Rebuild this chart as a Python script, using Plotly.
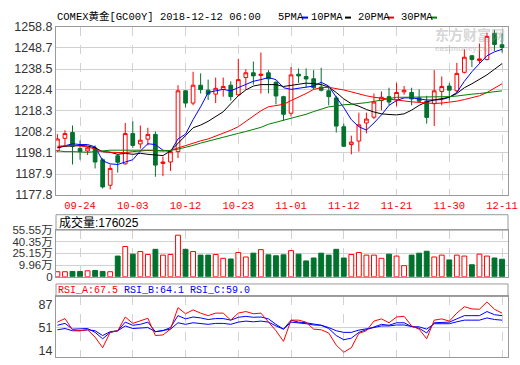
import plotly.graph_objects as go

# ---------------- data ----------------
IDX = list(range(60))
TICK_POS = [3, 10, 17, 24, 31, 38, 45, 52, 59]
TICK_TEXT = ["09-24", "10-03", "10-12", "10-23", "11-01", "11-12", "11-21", "11-30", "12-11"]

OPEN = [1199.1, 1205.1, 1207.9, 1200.2, 1199.0, 1200.5, 1194.8, 1182.5, 1196.7, 1192.8,
        1207.4, 1202.4, 1204.7, 1207.0, 1193.0, 1193.7, 1198.7, 1228.0, 1222.1, 1230.7,
        1228.3, 1226.4, 1228.7, 1230.7, 1226.1, 1234.4, 1236.7, 1235.4, 1236.7, 1232.1,
        1225.2, 1217.2, 1236.0, 1234.9, 1233.8, 1229.8, 1228.0, 1224.6, 1210.7, 1202.1,
        1203.8, 1212.5, 1215.3, 1223.3, 1225.2, 1223.6, 1227.5, 1227.2, 1224.6, 1223.0,
        1221.8, 1227.7, 1230.3, 1228.0, 1236.9, 1244.9, 1242.6, 1243.1, 1255.7, 1250.2]
HIGH = [1207.1, 1209.0, 1211.3, 1204.1, 1201.0, 1201.7, 1195.6, 1192.5, 1197.4, 1212.5,
        1213.3, 1211.3, 1210.2, 1208.4, 1196.3, 1199.4, 1230.7, 1228.3, 1237.2, 1236.4,
        1233.4, 1234.4, 1234.4, 1232.6, 1243.4, 1238.4, 1242.1, 1246.5, 1238.0, 1232.9,
        1225.6, 1239.5, 1238.8, 1238.8, 1238.0, 1239.1, 1230.3, 1225.6, 1212.2, 1206.4,
        1217.5, 1217.5, 1226.7, 1227.7, 1229.5, 1231.8, 1230.3, 1229.5, 1228.7, 1225.6,
        1238.0, 1234.9, 1231.8, 1241.5, 1248.0, 1245.2, 1250.8, 1256.0, 1257.3, 1255.7]
LOW = [1198.6, 1201.7, 1192.5, 1194.8, 1197.1, 1190.6, 1180.9, 1180.5, 1188.6, 1192.5,
       1200.5, 1200.2, 1201.7, 1186.6, 1186.9, 1189.4, 1195.6, 1220.0, 1221.0, 1226.7,
       1223.6, 1222.1, 1225.2, 1223.3, 1225.6, 1228.7, 1231.0, 1226.7, 1226.7, 1221.5,
       1213.8, 1215.6, 1231.8, 1229.5, 1228.7, 1227.7, 1221.0, 1207.9, 1201.0, 1197.4,
       1198.7, 1207.5, 1214.4, 1218.7, 1221.0, 1220.6, 1226.1, 1221.0, 1222.6, 1212.2,
       1211.0, 1221.0, 1223.3, 1227.2, 1236.4, 1239.5, 1241.1, 1242.6, 1247.2, 1246.5]
CLOSE = [1204.8, 1207.4, 1201.3, 1198.7, 1200.5, 1193.7, 1181.7, 1190.6, 1193.6, 1207.4,
         1201.7, 1204.2, 1207.0, 1192.2, 1193.7, 1198.7, 1228.0, 1222.1, 1230.7, 1228.6,
         1226.4, 1229.2, 1230.1, 1225.2, 1233.4, 1236.7, 1235.2, 1236.0, 1233.8, 1225.5,
         1216.7, 1235.7, 1235.2, 1233.7, 1229.5, 1228.3, 1225.2, 1211.0, 1201.3, 1203.3,
         1211.6, 1214.4, 1222.6, 1224.9, 1222.6, 1227.2, 1228.3, 1224.1, 1223.0, 1215.2,
         1228.0, 1230.1, 1228.3, 1236.4, 1244.2, 1243.1, 1243.4, 1254.2, 1250.3, 1248.9]

MA5 = [1200.5, 1201.4, 1202.5, 1202.1, 1202.1, 1201.0, 1194.3, 1192.8, 1192.5, 1193.7,
       1194.8, 1199.0, 1202.5, 1202.1, 1199.4, 1198.7, 1204.8, 1207.1, 1214.1, 1220.3,
       1227.2, 1228.0, 1228.7, 1228.0, 1229.5, 1231.0, 1232.6, 1233.4, 1234.4, 1233.4,
       1229.5, 1228.7, 1229.2, 1229.5, 1230.3, 1232.1, 1230.3, 1224.9, 1219.9, 1214.1,
       1210.7, 1209.1, 1212.5, 1216.4, 1221.0, 1223.3, 1224.6, 1224.6, 1224.1, 1223.6,
       1223.6, 1223.8, 1224.9, 1227.2, 1232.6, 1237.2, 1241.1, 1244.9, 1246.8, 1248.0]
MA10 = [1200.7, 1201.3, 1201.4, 1201.7, 1201.4, 1200.5, 1198.7, 1198.4, 1197.4, 1197.9,
        1197.4, 1197.9, 1197.4, 1197.1, 1196.8, 1199.0, 1202.5, 1206.4, 1210.2, 1211.5,
        1213.3, 1215.6, 1217.9, 1221.8, 1225.6, 1228.4, 1230.3, 1231.0, 1231.0, 1231.0,
        1230.1, 1230.7, 1231.4, 1231.7, 1231.5, 1231.0, 1229.8, 1227.2, 1224.1, 1221.8,
        1220.6, 1219.0, 1217.8, 1216.9, 1216.6, 1216.4, 1216.9, 1218.7, 1221.0, 1222.7,
        1223.6, 1224.4, 1224.9, 1226.7, 1229.5, 1231.4, 1233.4, 1235.7, 1238.4, 1241.1]
MA20 = [1201.3, 1201.4, 1201.7, 1201.4, 1201.0, 1199.9, 1198.7, 1198.4, 1198.2, 1198.2,
        1198.7, 1199.0, 1199.3, 1199.1, 1199.0, 1199.3, 1200.5, 1201.7, 1203.0, 1203.9,
        1204.8, 1206.1, 1207.5, 1209.0, 1210.7, 1213.3, 1215.9, 1218.4, 1220.3, 1220.9,
        1221.5, 1223.3, 1224.9, 1226.7, 1228.7, 1229.5, 1229.7, 1229.2, 1228.4, 1227.5,
        1226.4, 1225.6, 1224.9, 1224.4, 1224.0, 1223.6, 1223.0, 1222.7, 1222.4, 1222.1,
        1221.9, 1222.1, 1222.4, 1223.0, 1223.8, 1224.6, 1225.6, 1227.2, 1229.2, 1231.4]
MA30 = [1199.1, 1198.7, 1198.7, 1198.5, 1198.4, 1198.7, 1199.1, 1199.4, 1199.4, 1199.4,
        1199.6, 1199.7, 1199.7, 1199.4, 1199.1, 1199.3, 1199.9, 1200.7, 1201.7, 1202.8,
        1203.8, 1204.5, 1205.6, 1206.5, 1207.5, 1208.4, 1209.3, 1210.4, 1211.9, 1212.9,
        1213.6, 1214.7, 1215.6, 1216.7, 1218.0, 1219.0, 1220.3, 1220.7, 1221.3, 1221.5,
        1221.8, 1222.3, 1222.9, 1223.5, 1224.3, 1224.9, 1224.9, 1224.9, 1224.9, 1224.9,
        1224.9, 1225.0, 1225.2, 1225.5, 1226.1, 1226.4, 1226.7, 1227.2, 1227.7, 1228.0]

# volume in 万 (10k lots)
VOLUME = [1.3, 1.3, 1.65, 1.65, 2.5, 2.9, 1.65, 1.3, 21.7, 34.2,
          24.2, 27.6, 23.8, 30.5, 22.95, 23.8, 48.9, 30.5, 27.6, 22.95,
          22.95, 23.8, 18.8, 17.9, 26.3, 20.5, 25.5, 30.1, 23.3, 22.1,
          23.3, 28.8, 24.2, 15.4, 19.2, 25.5, 22.95, 30.5, 19.2, 23.8,
          26.3, 22.95, 22.95, 18.8, 24.2, 21.7, 9.17, 22.95, 25.5, 28.0,
          20.5, 22.95, 16.7, 22.95, 21.7, 10.4, 24.2, 21.7, 19.2, 17.6]

RSI_A = [59.5, 65.1, 47.4, 45.9, 47.4, 35.8, 19.1, 43.3, 45.9, 67.6,
         57.5, 61.1, 65.6, 38.3, 39.3, 48.4, 82.3, 72.7, 78.8, 73.7,
         69.7, 73.7, 73.7, 62.6, 73.7, 76.2, 72.7, 73.7, 59.5, 45.9,
         29.2, 62.6, 62.6, 59.5, 48.4, 47.4, 42.3, 23.1, 12.0, 19.1,
         41.8, 45.9, 61.1, 64.6, 58.5, 67.6, 68.6, 53.5, 48.4, 33.2,
         62.6, 64.6, 61.1, 73.7, 83.8, 80.3, 79.8, 91.4, 79.8, 73.7]
RSI_B = [54.5, 57.5, 48.4, 48.4, 49.4, 43.3, 33.2, 43.3, 45.9, 59.5,
         54.5, 56.0, 59.5, 44.4, 45.9, 50.9, 69.7, 64.6, 67.6, 66.1,
         63.6, 65.1, 65.1, 62.6, 67.1, 68.6, 67.1, 67.6, 64.6, 56.0,
         48.4, 62.6, 59.5, 58.5, 56.0, 54.5, 49.4, 38.3, 31.7, 34.2,
         43.3, 47.4, 52.5, 56.0, 54.5, 58.5, 58.5, 52.5, 49.9, 42.3,
         58.5, 59.5, 59.5, 64.6, 69.7, 69.7, 69.7, 76.2, 71.2, 69.7]
RSI_C = [47.4, 49.4, 45.9, 45.9, 47.4, 45.9, 38.3, 44.4, 45.9, 53.5,
         49.4, 49.9, 50.9, 44.4, 45.9, 48.4, 58.5, 56.0, 58.5, 57.5,
         56.0, 57.5, 57.5, 56.0, 59.5, 61.1, 60.0, 61.1, 59.5, 53.5,
         48.4, 59.5, 58.5, 57.0, 55.0, 54.5, 50.9, 45.9, 43.3, 43.3,
         46.9, 48.4, 50.9, 53.5, 53.5, 55.0, 55.0, 52.5, 52.0, 48.4,
         57.0, 57.0, 57.0, 60.0, 62.6, 62.6, 62.6, 66.1, 63.6, 62.6]

PRICE_TICKS = [1177.8, 1187.9, 1198.1, 1208.2, 1218.3, 1228.4, 1238.5, 1248.7, 1258.8]
VOL_FLOOR = -5.24
VOL_TICKS = [VOL_FLOOR, 9.96, 25.15, 40.35, 55.55]
VOL_TICK_TEXT = ["0", "9.96万", "25.15万", "40.35万", "55.55万"]
RSI_TICKS = [14, 51, 87]

TITLE = "COMEX黄金[GC00Y] 2018-12-12 06:00"
VOL_HEADER = "成交量:176025"
MA_NAMES = ["5PMA", "10PMA", "20PMA", "30PMA"]
MA_COLORS = ["#0000ff", "#000000", "#ff0000", "#008000"]

# ---------------- styles ----------------
RED = "#ff0000"
GREEN = "#00722d"
GRID = "#d2d2d2"
BORDER = "#9a9a9a"
MONO = "Liberation Mono, Noto Sans CJK SC, monospace"
SANS = "Liberation Sans, Noto Sans CJK SC, sans-serif"
W, H = 520, 365
ML, MR = 56, 12


def py(pix):
    return (H - pix) / H


def px(pix):
    return (pix - ML) / (W - ML - MR)


fig = go.Figure()

fig.add_trace(go.Candlestick(
    x=IDX, open=OPEN, high=HIGH, low=LOW, close=CLOSE,
    increasing=dict(line=dict(color=RED, width=1), fillcolor="white"),
    decreasing=dict(line=dict(color=GREEN, width=1), fillcolor=GREEN),
    whiskerwidth=0, xaxis="x", yaxis="y", showlegend=False, hoverinfo="skip"))

for vals, col in zip([MA5, MA10, MA20, MA30], MA_COLORS):
    fig.add_trace(go.Scatter(x=IDX, y=vals, mode="lines", line=dict(color=col, width=1),
                             xaxis="x", yaxis="y", showlegend=False, hoverinfo="skip"))

up = [c >= o for o, c in zip(OPEN, CLOSE)]
fig.add_trace(go.Bar(
    x=IDX, y=[v - VOL_FLOOR for v in VOLUME], base=VOL_FLOOR, width=0.64,
    marker=dict(color=["white" if u else GREEN for u in up],
                line=dict(color=[RED if u else GREEN for u in up], width=1)),
    xaxis="x2", yaxis="y2", showlegend=False, hoverinfo="skip"))

for vals, col in [(RSI_C, "#0000ff"), (RSI_B, "#0000ff"), (RSI_A, RED)]:
    fig.add_trace(go.Scatter(x=IDX, y=vals, mode="lines", line=dict(color=col, width=1),
                             xaxis="x3", yaxis="y3", showlegend=False, hoverinfo="skip"))

XR = [-0.19, 59.79]
xcommon = dict(range=XR, tickvals=TICK_POS, showgrid=True, gridcolor=GRID, griddash="dash",
               gridwidth=1, zeroline=False, showline=True, mirror=True, linecolor=BORDER,
               linewidth=1, ticks="", fixedrange=True)
ycommon = dict(showline=True, mirror=True, linecolor=BORDER, linewidth=1, zeroline=False,
               ticks="", gridcolor=GRID, gridwidth=1, fixedrange=True,
               tickfont=dict(family=SANS, size=12.5, color="#333333"))

fig.update_layout(
    width=W, height=H, margin=dict(l=ML, r=MR, t=0, b=0),
    paper_bgcolor="white", plot_bgcolor="white", showlegend=False,
    xaxis=dict(xcommon, domain=[0, 1], anchor="y", ticktext=TICK_TEXT,
               tickfont=dict(family=MONO, size=10.5, color=RED),
               rangeslider=dict(visible=False)),
    xaxis2=dict(xcommon, domain=[0, 1], anchor="y2", showticklabels=False),
    xaxis3=dict(xcommon, domain=[0, 1], anchor="y3", showticklabels=False),
    yaxis=dict(ycommon, domain=[py(195.5), py(20.7)], range=[PRICE_TICKS[0], PRICE_TICKS[-1]],
               tickvals=PRICE_TICKS, ticktext=[f"{v:.1f}" for v in PRICE_TICKS], anchor="x"),
    yaxis2=dict(ycommon, domain=[py(280.5), py(232)], range=[VOL_FLOOR, VOL_TICKS[-1]],
                tickvals=VOL_TICKS, ticktext=VOL_TICK_TEXT, anchor="x2",
                tickfont=dict(family=SANS, size=11.5, color="#333333")),
    yaxis3=dict(ycommon, domain=[py(364), py(301)], range=[4.4, 100], showgrid=False,
                tickvals=RSI_TICKS, anchor="x3"),
    bargap=0,
)

# header boxes of the volume and RSI panels
fig.add_shape(type="rect", xref="paper", yref="paper", x0=0, x1=1, y0=py(232), y1=py(216),
              line=dict(color=BORDER, width=1), fillcolor="rgba(0,0,0,0)", layer="above")
fig.add_shape(type="rect", xref="paper", yref="paper", x0=0, x1=1, y0=py(301), y1=py(288),
              line=dict(color=BORDER, width=1), fillcolor="rgba(0,0,0,0)", layer="above")
# RSI 51 reference line
fig.add_shape(type="line", xref="x3 domain", yref="y3", x0=0, x1=1, y0=51, y1=51,
              line=dict(color=GRID, width=1), layer="below")

fig.add_annotation(x=px(55), y=py(10), xref="paper", yref="paper", xanchor="left",
                   yanchor="middle", showarrow=False, text=TITLE,
                   font=dict(family=MONO, size=10.5, color="#000"))
# MA legend: names followed by small coloured dashes
name_x = [276, 309, 356, 399]
dash_x = [302, 345, 388, 431]
for name, col, nx, dx in zip(MA_NAMES, MA_COLORS, name_x, dash_x):
    fig.add_annotation(x=px(nx), y=py(10), xref="paper", yref="paper", xanchor="left",
                       yanchor="middle", showarrow=False, text=name,
                       font=dict(family=MONO, size=10.5, color="#000"))
    fig.add_shape(type="line", xref="paper", yref="paper", x0=px(dx), x1=px(dx + 6),
                  y0=py(11), y1=py(11), line=dict(color=col, width=2))

fig.add_annotation(x=px(57), y=py(224), xref="paper", yref="paper", xanchor="left",
                   yanchor="middle", showarrow=False, text=VOL_HEADER,
                   font=dict(family=SANS, size=12, color="#000"))
rsi_txt = ("<span style='color:#ff0000'>RSI_A:67.5</span> <span style='color:#0000ff'>RSI_B:64.1</span> "
           "<span style='color:#0000ff'>RSI_C:59.0</span>")
fig.add_annotation(x=px(56), y=py(294.5), xref="paper", yref="paper", xanchor="left",
                   yanchor="middle", showarrow=False, text=rsi_txt,
                   font=dict(family=MONO, size=10, color="#000"))
# watermark
fig.add_annotation(x=px(507), y=py(28.5), xref="paper", yref="paper", xanchor="right",
                   yanchor="middle", showarrow=False, text="<b>东方财富网</b>",
                   font=dict(family="Noto Sans CJK SC", size=14, color="rgba(150,150,150,0.4)"))
fig.add_annotation(x=px(497), y=py(43), xref="paper", yref="paper", xanchor="right",
                   yanchor="middle", showarrow=False, text="<b>eastmoney.com</b>",
                   font=dict(family=SANS, size=8, color="rgba(150,150,150,0.4)"))

fig.write_html("out.html", config={"displayModeBar": False, "staticPlot": True},
               post_script="document.body.style.margin='0';")
